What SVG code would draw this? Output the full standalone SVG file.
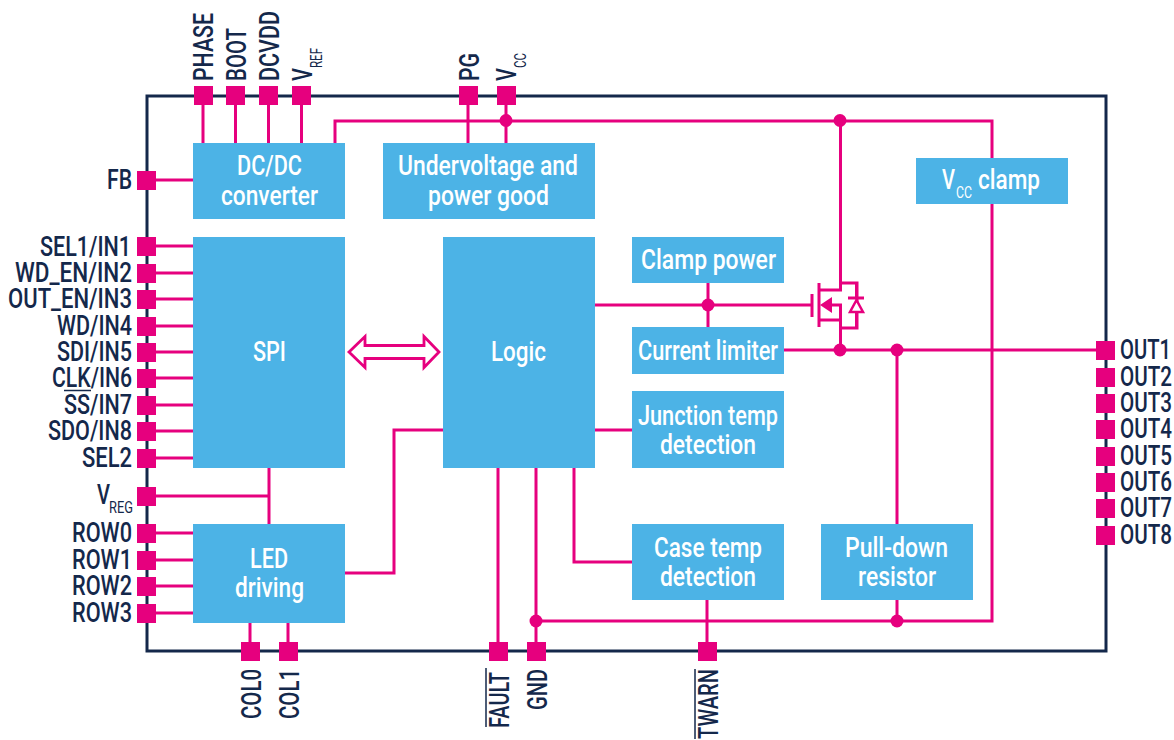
<svg xmlns="http://www.w3.org/2000/svg" width="1174" height="740" viewBox="0 0 1174 740">
<style>
.b{fill:#4cb3e6}
.p{fill:#e6007e}
.w{fill:none;stroke:#e6007e;stroke-width:3}
text{font-family:Roboto,"Liberation Sans",sans-serif;font-size:27px;font-weight:500}
.t{fill:#fff;text-anchor:middle}
.l{fill:#14284b;text-anchor:end}
.r{text-anchor:start}
.s{font-size:16px;font-weight:400}
.o{stroke:#14284b;stroke-width:1.5;fill:none}
</style>
<rect x="147" y="96" width="959" height="555" fill="#fff" stroke="#14284b" stroke-width="3"/>
<g id="connectors" class="w">
<path d="M203 95V143M235.500 95V143M268.500 95V143M301.500 95V143M468 95V143M506 95V143"/>
<path d="M335 143V121H992V158M992 204V621H536"/>
<path d="M147 180H193M147 246H193M147 273H193M147 299H193M147 326H193M147 352H193M147 378H193M147 405H193M147 431H193M147 458H193M147 496H269M269 468V524M147 533H193M147 560H193M147 586H193M147 613H193"/>
<path d="M250 623V651M288 623V651M498 468V651M536 468V651M707 600V651M897 600V621M574 468V562H632M443 430H394V573H345M595 430H632"/>
<path d="M595 305H812M708 283V327M784 350H1105M897 350V524"/>
<path d="M840.500 121V290H819M819 283V327M819 320H840.500M832 305H840.500V350M840.500 283H857V328H840.500M812 294V317M848 298H864M856.500 312V328M856.500 283V298"/>
<path d="M349 352L365 336.500V345.500H424V336.500L439 352L424 367.500V358.500H365V367.500Z" stroke-width="2.800"/>
</g>
<path class="p" d="M820 305L832 297V313Z"/>
<path d="M856.500 300L850 312H863Z" fill="#fff" stroke="#e6007e" stroke-width="2.500"/>
<g class="p"><circle cx="506" cy="120.500" r="6.500"/><circle cx="840" cy="120.500" r="6.500"/><circle cx="708" cy="305" r="6.500"/><circle cx="840" cy="350" r="6.500"/><circle cx="897" cy="350" r="6.500"/><circle cx="536" cy="621" r="6.500"/><circle cx="897" cy="621" r="6.500"/></g>
<g id="node-dcdc"><rect class="b" x="193" y="143" width="152" height="76"/><text class="t" x="269.500" y="174.500" textLength="65" lengthAdjust="spacingAndGlyphs">DC/DC</text><text class="t" x="269.500" y="204.500" textLength="97" lengthAdjust="spacingAndGlyphs">converter</text></g>
<g id="node-uv"><rect class="b" x="383" y="143" width="212" height="76"/><text class="t" x="488" y="174.500" textLength="180" lengthAdjust="spacingAndGlyphs">Undervoltage and</text><text class="t" x="488.500" y="204.500" textLength="121" lengthAdjust="spacingAndGlyphs">power good</text></g>
<g id="node-vccclamp"><rect class="b" x="916" y="158" width="152" height="46"/><text class="t" style="text-anchor:start" x="942" y="189" textLength="13" lengthAdjust="spacingAndGlyphs">V</text><text class="t s" style="text-anchor:start" x="956" y="198" textLength="16" lengthAdjust="spacingAndGlyphs">CC</text><text class="t" style="text-anchor:start" x="978" y="189" textLength="62" lengthAdjust="spacingAndGlyphs">clamp</text></g>
<g id="node-spi"><rect class="b" x="193" y="237" width="152" height="231"/><text class="t" x="269.500" y="361" textLength="33" lengthAdjust="spacingAndGlyphs">SPI</text></g>
<g id="node-logic"><rect class="b" x="443" y="237" width="152" height="231"/><text class="t" x="518.500" y="361" textLength="55" lengthAdjust="spacingAndGlyphs">Logic</text></g>
<g id="node-clamppower"><rect class="b" x="632" y="237" width="152" height="46"/><text class="t" x="708.500" y="268.500" textLength="135" lengthAdjust="spacingAndGlyphs">Clamp power</text></g>
<g id="node-limiter"><rect class="b" x="632" y="327" width="152" height="47"/><text class="t" x="708" y="359.500" textLength="140" lengthAdjust="spacingAndGlyphs">Current limiter</text></g>
<g id="node-junction"><rect class="b" x="632" y="391" width="152" height="77"/><text class="t" x="708" y="424.500" textLength="140" lengthAdjust="spacingAndGlyphs">Junction temp</text><text class="t" x="708" y="453.500" textLength="96" lengthAdjust="spacingAndGlyphs">detection</text></g>
<g id="node-led"><rect class="b" x="193" y="524" width="152" height="99"/><text class="t" x="269" y="567.500" textLength="38" lengthAdjust="spacingAndGlyphs">LED</text><text class="t" x="269.500" y="596.500" textLength="69" lengthAdjust="spacingAndGlyphs">driving</text></g>
<g id="node-case"><rect class="b" x="632" y="524" width="152" height="76"/><text class="t" x="708" y="556.500" textLength="108" lengthAdjust="spacingAndGlyphs">Case temp</text><text class="t" x="708" y="585.500" textLength="96" lengthAdjust="spacingAndGlyphs">detection</text></g>
<g id="node-pulldown"><rect class="b" x="821" y="524" width="152" height="76"/><text class="t" x="896.500" y="556.500" textLength="103" lengthAdjust="spacingAndGlyphs">Pull-down</text><text class="t" x="897" y="585.500" textLength="78" lengthAdjust="spacingAndGlyphs">resistor</text></g>
<g id="pins" class="p">
<rect x="137" y="171" width="19" height="19"/><rect x="137" y="237" width="19" height="19"/><rect x="137" y="264" width="19" height="19"/><rect x="137" y="290" width="19" height="19"/><rect x="137" y="317" width="19" height="19"/><rect x="137" y="343" width="19" height="19"/><rect x="137" y="369" width="19" height="19"/><rect x="137" y="396" width="19" height="19"/><rect x="137" y="422" width="19" height="19"/><rect x="137" y="449" width="19" height="19"/><rect x="137" y="487" width="19" height="19"/><rect x="137" y="524" width="19" height="19"/><rect x="137" y="551" width="19" height="19"/><rect x="137" y="577" width="19" height="19"/><rect x="137" y="604" width="19" height="19"/>
<rect x="194" y="86" width="19" height="19"/><rect x="226" y="86" width="19" height="19"/><rect x="259" y="86" width="19" height="19"/><rect x="292" y="86" width="19" height="19"/><rect x="459" y="86" width="19" height="19"/><rect x="497" y="86" width="19" height="19"/>
<rect x="241" y="642" width="19" height="19"/><rect x="279" y="642" width="19" height="19"/><rect x="489" y="642" width="19" height="19"/><rect x="527" y="642" width="19" height="19"/><rect x="698" y="642" width="19" height="19"/>
<rect x="1096" y="341" width="19" height="19"/><rect x="1096" y="368" width="19" height="19"/><rect x="1096" y="394" width="19" height="19"/><rect x="1096" y="420" width="19" height="19"/><rect x="1096" y="447" width="19" height="19"/><rect x="1096" y="473" width="19" height="19"/><rect x="1096" y="499" width="19" height="19"/><rect x="1096" y="526" width="19" height="19"/>
</g>
<g id="labels">
<text class="l" transform="translate(132 189) scale(.77 1)" textLength="32.500" lengthAdjust="spacingAndGlyphs">FB</text><text class="l" transform="translate(131 255.500) scale(.77 1)" textLength="118.200" lengthAdjust="spacingAndGlyphs">SEL1/IN1</text><text class="l" transform="translate(132 282) scale(.77 1)" textLength="152" lengthAdjust="spacingAndGlyphs">WD_EN/IN2</text><text class="l" transform="translate(132 308) scale(.77 1)" textLength="161" lengthAdjust="spacingAndGlyphs">OUT_EN/IN3</text><text class="l" transform="translate(132 335) scale(.77 1)" textLength="97.400" lengthAdjust="spacingAndGlyphs">WD/IN4</text><text class="l" transform="translate(132 361) scale(.77 1)" textLength="97.400" lengthAdjust="spacingAndGlyphs">SDI/IN5</text><text class="l" transform="translate(132 387) scale(.77 1)" textLength="103.900" lengthAdjust="spacingAndGlyphs">CLK/IN6</text><text class="l" transform="translate(132 414) scale(.77 1)" textLength="88.300" lengthAdjust="spacingAndGlyphs">SS/IN7</text><text class="l" transform="translate(132 440) scale(.77 1)" textLength="109.100" lengthAdjust="spacingAndGlyphs">SDO/IN8</text><text class="l" transform="translate(132 467) scale(.77 1)" textLength="64.900" lengthAdjust="spacingAndGlyphs">SEL2</text>
<text class="l r" x="97" y="504" textLength="13" lengthAdjust="spacingAndGlyphs">V</text><text class="l r s" x="109" y="513" textLength="24" lengthAdjust="spacingAndGlyphs">REG</text>
<text class="l" transform="translate(132 542) scale(.77 1)" textLength="77.900" lengthAdjust="spacingAndGlyphs">ROW0</text><text class="l" transform="translate(132 569) scale(.77 1)" textLength="77.900" lengthAdjust="spacingAndGlyphs">ROW1</text><text class="l" transform="translate(132 595) scale(.77 1)" textLength="77.900" lengthAdjust="spacingAndGlyphs">ROW2</text><text class="l" transform="translate(132 622) scale(.77 1)" textLength="77.900" lengthAdjust="spacingAndGlyphs">ROW3</text>
<text class="l r" transform="translate(1120 358.500) scale(.77 1)" textLength="66.200" lengthAdjust="spacingAndGlyphs">OUT1</text><text class="l r" transform="translate(1120 385.500) scale(.77 1)" textLength="67.500" lengthAdjust="spacingAndGlyphs">OUT2</text><text class="l r" transform="translate(1120 411.500) scale(.77 1)" textLength="67.500" lengthAdjust="spacingAndGlyphs">OUT3</text><text class="l r" transform="translate(1120 437.500) scale(.77 1)" textLength="67.500" lengthAdjust="spacingAndGlyphs">OUT4</text><text class="l r" transform="translate(1120 464.500) scale(.77 1)" textLength="67.500" lengthAdjust="spacingAndGlyphs">OUT5</text><text class="l r" transform="translate(1120 490.500) scale(.77 1)" textLength="67.500" lengthAdjust="spacingAndGlyphs">OUT6</text><text class="l r" transform="translate(1120 516.500) scale(.77 1)" textLength="67.500" lengthAdjust="spacingAndGlyphs">OUT7</text><text class="l r" transform="translate(1120 543.500) scale(.77 1)" textLength="67.500" lengthAdjust="spacingAndGlyphs">OUT8</text>
<text class="l r" transform="translate(213 81) rotate(-90) scale(.77 1)" textLength="88.300" lengthAdjust="spacingAndGlyphs">PHASE</text><text class="l r" transform="translate(245.500 81) rotate(-90) scale(.77 1)" textLength="68.800" lengthAdjust="spacingAndGlyphs">BOOT</text><text class="l r" transform="translate(278.500 81) rotate(-90) scale(.77 1)" textLength="90.900" lengthAdjust="spacingAndGlyphs">DCVDD</text><text class="l r" transform="translate(311.500 81) rotate(-90)" textLength="13" lengthAdjust="spacingAndGlyphs">V</text><text class="l r s" transform="translate(321.500 68) rotate(-90)" textLength="20" lengthAdjust="spacingAndGlyphs">REF</text><text class="l r" transform="translate(478.500 81) rotate(-90) scale(.77 1)" textLength="36.400" lengthAdjust="spacingAndGlyphs">PG</text><text class="l r" transform="translate(516 81) rotate(-90)" textLength="13" lengthAdjust="spacingAndGlyphs">V</text><text class="l r s" transform="translate(526 68) rotate(-90)" textLength="15" lengthAdjust="spacingAndGlyphs">CC</text>
<text class="l" transform="translate(261 669) rotate(-90) scale(.77 1)" textLength="64.900" lengthAdjust="spacingAndGlyphs">COL0</text><text class="l" transform="translate(299 669) rotate(-90) scale(.77 1)" textLength="64.900" lengthAdjust="spacingAndGlyphs">COL1</text><text class="l" transform="translate(508.500 672) rotate(-90) scale(.77 1)" textLength="72.700" lengthAdjust="spacingAndGlyphs">FAULT</text><text class="l" transform="translate(546.500 669) rotate(-90) scale(.77 1)" textLength="53.200" lengthAdjust="spacingAndGlyphs">GND</text><text class="l" transform="translate(717.500 669) rotate(-90) scale(.77 1)" textLength="90.900" lengthAdjust="spacingAndGlyphs">TWARN</text>
<path class="o" d="M64 390.500H91M486 668V727M695 669V739"/>
</g>
</svg>
